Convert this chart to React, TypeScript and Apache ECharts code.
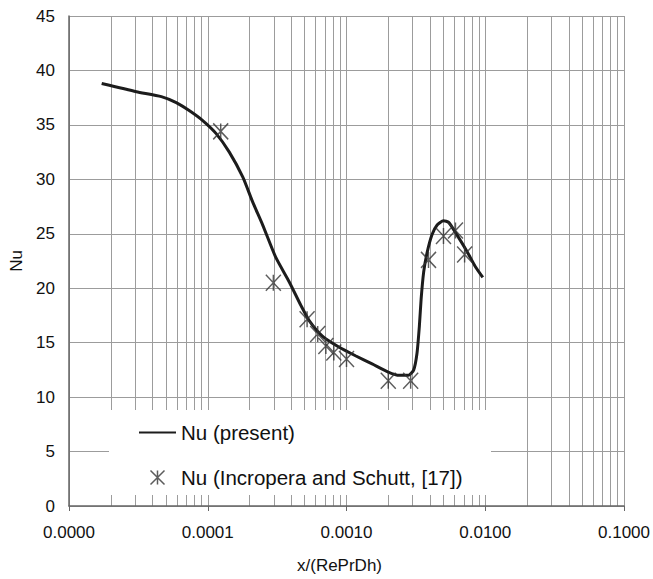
import React, { useEffect, useRef } from 'react';
import * as echarts from 'echarts';

// Nu (present) – numerical curve
const presentX = [
  1.72e-5, 3.06e-5, 4.63e-5, 5.93e-5, 7.39e-5, 9.2e-5, 1.15e-4, 1.43e-4, 1.79e-4, 2.11e-4,
  2.49e-4, 3.1e-4, 3.86e-4, 4.7e-4, 5.4e-4, 6.7e-4, 8.8e-4, 1.16e-3, 1.53e-3, 2.0e-3,
  2.4e-3, 2.8e-3, 3.05e-3, 3.22e-3, 3.35e-3, 3.45e-3, 3.6e-3, 3.8e-3, 4.13e-3, 4.5e-3,
  5.0e-3, 5.45e-3, 6.25e-3, 7.37e-3, 8.47e-3, 9.6e-3,
];
const presentY = [
  38.8, 38.05, 37.6, 37.05, 36.3, 35.4, 34.2, 32.5, 30.2, 27.9,
  25.8, 22.8, 20.6, 18.4, 17.0, 15.6, 14.6, 13.8, 13.05, 12.3,
  12.0, 12.0, 12.5, 14.0, 16.5, 19.0, 21.5, 23.2, 24.9, 25.8,
  26.2, 26.05, 24.9, 23.4, 22.0, 21.0,
];

// Nu (Incropera and Schutt, [17]) – reference points
const exptX = [1.24e-4, 2.97e-4, 5.2e-4, 6.2e-4, 7.1e-4, 8.1e-4, 1.0e-3, 2.0e-3, 2.9e-3, 3.9e-3, 5.0e-3, 6.1e-3, 7.1e-3];
const exptY = [34.4, 20.5, 17.15, 15.8, 14.7, 14.1, 13.5, 11.5, 11.5, 22.6, 24.8, 25.3, 23.1];

const seriesNames = ['Nu (present)', 'Nu (Incropera and Schutt, [17])'];
const xAxisTitle = 'x/(RePrDh)';
const yAxisTitle = 'Nu';

export default function App() {
  const ref = useRef<HTMLDivElement>(null);
  useEffect(() => {
    if (!ref.current) return;
    const chart = echarts.init(ref.current, null, { renderer: 'svg' });
    const font = '"Liberation Sans", Arial, Helvetica, sans-serif';
    const gridColor = '#9c9c9c';
    chart.setOption({
      animation: false,
      backgroundColor: '#ffffff',
      grid: { left: 69, top: 16, right: 27, bottom: 69, containLabel: false },
      xAxis: {
        type: 'log',
        logBase: 10,
        min: 1e-5,
        max: 0.1,
        name: xAxisTitle,
        nameLocation: 'middle',
        nameGap: 51,
        nameTextStyle: { fontFamily: font, fontSize: 17, color: '#111', padding: [0, 14, 0, 0] },
        axisLine: { show: true, lineStyle: { color: '#666', width: 1.5 } },
        axisTick: { show: true, length: 5, lineStyle: { color: '#666', width: 1 } },
        axisLabel: {
          margin: 18,
          fontFamily: font,
          fontSize: 17,
          color: '#111',
          formatter: (v: number) => v.toFixed(4),
        },
        splitLine: { show: true, lineStyle: { color: gridColor, width: 1 } },
        minorTick: { show: false, splitNumber: 9 },
        minorSplitLine: { show: true, lineStyle: { color: gridColor, width: 1 } },
      },
      yAxis: {
        type: 'value',
        min: 0,
        max: 45,
        interval: 5,
        name: yAxisTitle,
        nameLocation: 'middle',
        nameGap: 42,
        nameTextStyle: { fontFamily: font, fontSize: 17, color: '#111' },
        axisLine: { show: true, lineStyle: { color: '#666', width: 1.5 } },
        axisTick: { show: false },
        axisLabel: { margin: 14, fontFamily: font, fontSize: 17, color: '#111' },
        splitLine: { show: true, lineStyle: { color: gridColor, width: 1 } },
      },
      legend: {
        orient: 'vertical',
        left: 138,
        top: 422,
        padding: 0,
        itemWidth: 37,
        itemHeight: 14,
        itemGap: 24,
        selectedMode: false,
        z: 200,
        textStyle: { fontFamily: font, fontSize: 20.5, color: '#111' },
        itemStyle: { borderWidth: 1.5 },
        data: [
          { name: seriesNames[0], itemStyle: { color: 'rgba(0,0,0,0)', borderWidth: 0, opacity: 0 } },
          { name: seriesNames[1] },
        ],
      },
      graphic: [
        {
          type: 'rect',
          z: 100,
          shape: { x: 109, y: 410, width: 382, height: 85 },
          style: { fill: '#ffffff' },
        },
      ],
      series: [
        {
          name: seriesNames[0],
          type: 'line',
          data: presentX.map((x, i) => [x, presentY[i]]),
          symbol: 'none',
          smooth: 0.2,
          lineStyle: { color: '#1c1c1c', width: 3 },
          itemStyle: { color: '#1c1c1c' },
          z: 3,
        },
        {
          name: seriesNames[1],
          type: 'scatter',
          data: exptX.map((x, i) => [x, exptY[i]]),
          symbol: 'path://M0,0L10,10M10,0L0,10M5,0L5,10',
          symbolSize: [15, 16],
          itemStyle: { color: 'none', borderColor: '#333', borderWidth: 1.5 },
          z: 4,
        },
      ],
    });
    return () => chart.dispose();
  }, []);
  return (
    <div
      ref={ref}
      style={{ position: 'absolute', left: 0, top: 0, width: 653, height: 579, background: '#fff' }}
    />
  );
}
